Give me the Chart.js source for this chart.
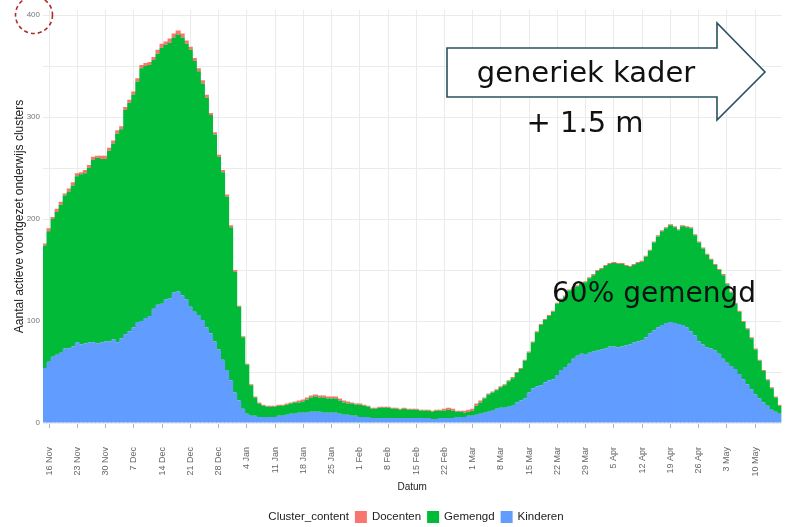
<!DOCTYPE html>
<html>
<head>
<meta charset="utf-8">
<script src="https://cdn.jsdelivr.net/npm/chart.js@4.4.1/dist/chart.umd.min.js"></script>
<style>
  html, body { margin: 0; padding: 0; background: #fff; }
  #wrap { position: relative; width: 785px; height: 527px; }
</style>
</head>
<body>
<div id="wrap"><canvas id="myChart"></canvas></div>
<script>
// daily counts, 15 Nov 2020 .. 16 May 2021
const kinderen = [
  54,60,65,67,69,73,73,75,79,77, 78,79,79,78,79,80,80,82,79,83,
  87,90,94,99,100,103,105,112,116,117, 121,122,128,129,125,121,114,109,106,101,
  94,88,80,72,62,52,42, 30,22,14,9,7,7,6,6,
  6,6,6,7,7,8,9,9,10,10, 10,11,11,11,10,10,10,10,9,8,
  8,7,7,6,6,6,5,5,5,5, 5,5,5,5,5,5,5,5,5,5,
  5,4,4,5,5,5,5,6,6,6, 7,7,
  8,9,10,11,12,14,15,15,16,17, 20,22,24,30,34,36,37,40,42,43,
  47,52,55,58,63,66,68,67,69,70, 71,72,73,75,75,74,75,76,77,79,
  80,81,84,88,91,94,96,98,99,98, 97,96,94,90,86,80,77,74,73,71,
  68,63,59,56,53,48,43,38,33,28, 24,20,17,13,11,9
];
const gemengd = [
  120,128,135,140,145,150,154,158,163,167, 167,171,179,182,180,179,187,192,205,205,
  220,224,228,236,248,247,246,244,246,251, 250,251,250,252,253,251,252,246,239,232,
  225,214,203,189,184,170,150, 118,92,70,48,30,18,13,11,
  10,10,10,10,10,10,10,11,10,11, 13,14,15,14,15,14,14,14,13,12,
  11,12,11,12,11,10,9,9,10,10, 10,9,9,8,9,8,8,8,7,7,
  7,7,8,7,7,8,7,5,5,4, 4,5,
  9,11,14,17,18,18,20,22,25,27, 29,31,37,39,45,53,59,61,63,66,
  70,69,69,72,69,68,69,71,73,75, 78,79,81,81,82,82,81,78,76,76,
  77,77,79,81,86,89,92,93,95,94, 92,97,98,101,98,97,94,91,87,84,
  82,82,77,72,64,61,56,54,50,44, 37,31,25,21,14,8
];
const docenten = [
  2,3,2,3,3,2,3,3,3,2, 3,3,3,2,3,3,3,3,3,3,
  3,3,3,3,3,3,3,3,4,4, 3,4,4,4,4,3,3,3,3,3,
  3,2,2,2,2,2,2, 2,1,1,1,1,1,1,1,
  1,1,1,1,1,1,1,1,2,2, 2,2,2,2,2,2,2,2,2,2,
  2,1,1,1,1,1,1,1,1,1, 1,1,1,1,1,1,1,1,1,1,
  1,1,1,1,2,2,2,1,1,2, 2,2,
  2,2,1,1,1,1,1,1,1,1, 1,1,1,1,1,1,1,1,1,1,
  1,1,1,1,1,1,1,1,1,1, 1,1,1,1,1,1,1,1,1,1,
  1,1,1,1,1,1,1,1,1,1, 1,1,1,1,1,1,1,1,1,1,
  1,1,1,1,1,1,1,1,1,1, 1,1,1,1,1,1
];
const tickLabels = ["16 Nov","23 Nov","30 Nov","7 Dec","14 Dec","21 Dec","28 Dec","4 Jan","11 Jan",
  "18 Jan","25 Jan","1 Feb","8 Feb","15 Feb","22 Feb","1 Mar","8 Mar","15 Mar","22 Mar","29 Mar",
  "5 Apr","12 Apr","19 Apr","26 Apr","3 May","10 May"];
const yTicks = [0, 100, 200, 300, 400];
const yGrid = [0, 50, 100, 150, 200, 250, 300, 350, 400];

const monthNames = ["Jan","Feb","Mar","Apr","May","Jun","Jul","Aug","Sep","Oct","Nov","Dec"];
const days = kinderen.map((_, i) => {
  let d = new Date(Date.UTC(2020, 10, 15 + i));
  return d.getUTCDate() + " " + monthNames[d.getUTCMonth()];
});

const overlay = {
  id: "overlay",
  afterDraw(chart) {
    const ctx = chart.ctx;
    ctx.save();
    // dashed circle round the 400 label
    ctx.strokeStyle = "#b02a2a";
    ctx.lineWidth = 1.6;
    ctx.setLineDash([4, 3]);
    ctx.beginPath();
    ctx.arc(34, 15, 18.5, 0, Math.PI * 2);
    ctx.stroke();
    ctx.setLineDash([]);

    // arrow box
    ctx.beginPath();
    ctx.moveTo(447, 48);
    ctx.lineTo(717, 48);
    ctx.lineTo(717, 23);
    ctx.lineTo(765, 72);
    ctx.lineTo(717, 120);
    ctx.lineTo(717, 97);
    ctx.lineTo(447, 97);
    ctx.closePath();
    ctx.fillStyle = "#fff";
    ctx.fill();
    ctx.strokeStyle = "#27525f";
    ctx.lineWidth = 1.6;
    ctx.stroke();

    ctx.fillStyle = "#111";
    ctx.textAlign = "center";
    ctx.textBaseline = "alphabetic";
    ctx.font = '29px "DejaVu Sans"';
    ctx.fillText("generiek kader", 586, 82);
    ctx.fillText("+ 1.5 m", 585, 132);
    ctx.font = '28px "DejaVu Sans"';
    ctx.fillText("60% gemengd", 654, 302);

    // legend, ggplot style
    ctx.font = '11.5px "Liberation Sans"';
    ctx.textAlign = "left";
    ctx.textBaseline = "middle";
    let items = chart.data.datasets.slice().reverse();
    let title = "Cluster_content";
    let total = ctx.measureText(title).width;
    items.forEach(ds => { total += 6 + 12 + 5 + ctx.measureText(ds.label).width; });
    let x = 416 - total / 2;
    let y = 517;
    ctx.fillStyle = "#222";
    ctx.fillText(title, x, y);
    x += ctx.measureText(title).width + 6;
    items.forEach(ds => {
      ctx.fillStyle = ds.backgroundColor;
      ctx.fillRect(x, y - 6, 12, 12);
      x += 12 + 5;
      ctx.fillStyle = "#222";
      ctx.fillText(ds.label, x, y);
      x += ctx.measureText(ds.label).width + 6;
    });
    ctx.restore();
  }
};

new Chart(document.getElementById("myChart"), {
  type: "bar",
  data: {
    labels: days,
    datasets: [
      { label: "Kinderen", data: kinderen, backgroundColor: "#619CFF" },
      { label: "Gemengd", data: gemengd, backgroundColor: "#00BA38" },
      { label: "Docenten", data: docenten, backgroundColor: "#F8766D" }
    ]
  },
  options: {
    responsive: true,
    maintainAspectRatio: false,
    animation: false,
    devicePixelRatio: 1,
    layout: { padding: { top: 10, right: 0, bottom: 30, left: 0 } },
    // a little overlap so neighbouring bars leave no seams
    datasets: { bar: { barPercentage: 1.25, categoryPercentage: 1, borderWidth: 0, inflateAmount: 0 } },
    plugins: { legend: { display: false }, tooltip: { enabled: false } },
    scales: {
      x: {
        stacked: true,
        border: { display: false },
        grid: { offset: false, color: "#ebebeb", tickColor: "#b5b5b5", tickLength: 5 },
        ticks: {
          autoSkip: false, minRotation: 90, maxRotation: 90, padding: 19,
          color: "#666", font: { family: "Liberation Sans", size: 9 }
        },
        afterBuildTicks: scale => {
          scale.ticks = scale.ticks.filter(t => tickLabels.includes(days[t.value]));
        },
        afterFit: scale => { scale.height = 74; },
        title: {
          display: true, text: "Datum", color: "#222",
          font: { family: "Liberation Sans", size: 10 }, padding: { top: 0, bottom: 4 }
        }
      },
      y: {
        stacked: true,
        min: 0,
        max: 405,
        border: { display: false },
        grid: { color: "#ebebeb", drawTicks: false },
        ticks: {
          padding: 3, color: "#777",
          font: { family: "Liberation Sans", size: 8 },
          callback: v => yTicks.includes(v) ? v : ""
        },
        afterBuildTicks: scale => {
          scale.ticks = yGrid.map(v => ({ value: v }));
        },
        afterFit: scale => { scale.width = 43; },
        title: {
          display: true, text: "Aantal actieve voortgezet onderwijs clusters", color: "#222",
          font: { family: "Liberation Sans", size: 12 }, padding: { top: 12, bottom: 0 }
        }
      }
    }
  },
  plugins: [overlay]
});
</script>
</body>
</html>
